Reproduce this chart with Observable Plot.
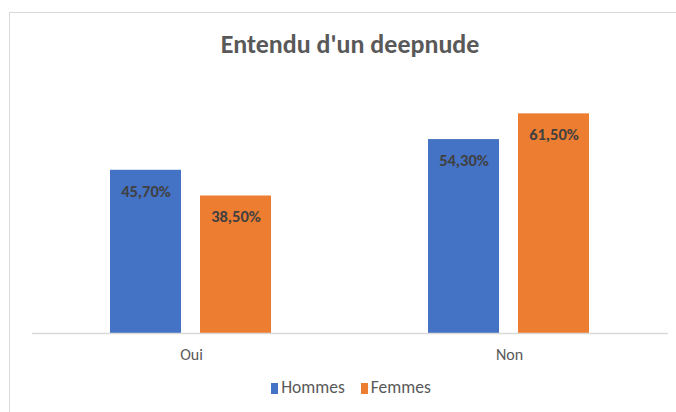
<!DOCTYPE html>
<html>
<head>
<meta charset="utf-8">
<script src="https://cdn.jsdelivr.net/npm/d3@7"></script>
<script src="https://cdn.jsdelivr.net/npm/@observablehq/plot@0.6"></script>
<style>
  body { margin: 0; background: #fff; }
  #wrap { position: relative; width: 676px; height: 412px; overflow: hidden; font-family: Carlito, "Liberation Sans Narrow", Lato, sans-serif; }
  #border { position: absolute; left: 9px; top: 12px; width: 700px; height: 420px; border: 1px solid #d9d9d9; box-sizing: border-box; }
  #title { position: absolute; left: 0; width: 700px; top: 28px; text-align: center; font-size: 26px; font-weight: bold; color: #595959; }
  #legend { position: absolute; left: 0; width: 702px; top: 376px; display: flex; justify-content: center; gap: 16px; font-size: 17.5px; color: #595959; }
  #legend span.sw { display: inline-block; width: 7px; height: 11px; margin-right: 3px; vertical-align: -1px; }
  #chart { position: absolute; left: 0; top: 0; }
</style>
</head>
<body>
<div id="wrap">
  <div id="border"></div>
  <div id="chart"></div>
  <div id="title">Entendu d'un deepnude</div>
  <div id="legend"></div>
</div>
<script>
const categories = ["Oui", "Non"];
const series = ["Hommes", "Femmes"];
const hommes = [45.7, 54.3];
const femmes = [38.5, 61.5];
const colors = ["#4472C4", "#ED7D31"];

const data = [];
categories.forEach((c, i) => {
  data.push({cat: c, sex: "Hommes", value: hommes[i]});
  data.push({cat: c, sex: "Femmes", value: femmes[i]});
});
const fmt = v => v.toFixed(2).replace(".", ",") + "%";

const chart = Plot.plot({
  width: 676,
  height: 412,
  marginLeft: 31,
  marginRight: 8,
  marginTop: 83,
  marginBottom: 79,
  style: {fontFamily: 'Carlito, "Liberation Sans Narrow", Lato, sans-serif', background: "transparent"},
  fx: {domain: categories, padding: 0, axis: "bottom", tickSize: 0, tickPadding: 15, label: null, fontSize: 16},
  x: {domain: series, paddingInner: 0.21, paddingOuter: 0.855, axis: null},
  y: {domain: [0, 70], axis: null},
  color: {domain: series, range: colors},
  marks: [
    Plot.barY(data, {fx: "cat", x: "sex", y: "value", fill: "sex"}),
    Plot.ruleY([0], {stroke: "#d9d9d9", strokeWidth: 1.5}),
    Plot.text(data, {fx: "cat", x: "sex", y: "value", text: d => fmt(d.value), dy: 21, fill: "#404040", fontWeight: "bold", fontSize: 16.5})
  ]
});
const fxg = chart.querySelector('g[aria-label="fx-axis tick label"]');
if (fxg) { fxg.setAttribute("fill", "#595959"); fxg.setAttribute("font-size", "16"); }
chart.querySelectorAll('g[aria-label="fx-axis tick label"] text').forEach(t => t.setAttribute("fill", "#595959"));
document.getElementById("chart").appendChild(chart);

const legend = document.getElementById("legend");
series.forEach((s, i) => {
  const item = document.createElement("div");
  item.innerHTML = `<span class="sw" style="background:${colors[i]}"></span>${s}`;
  legend.appendChild(item);
});
</script>
</body>
</html>
